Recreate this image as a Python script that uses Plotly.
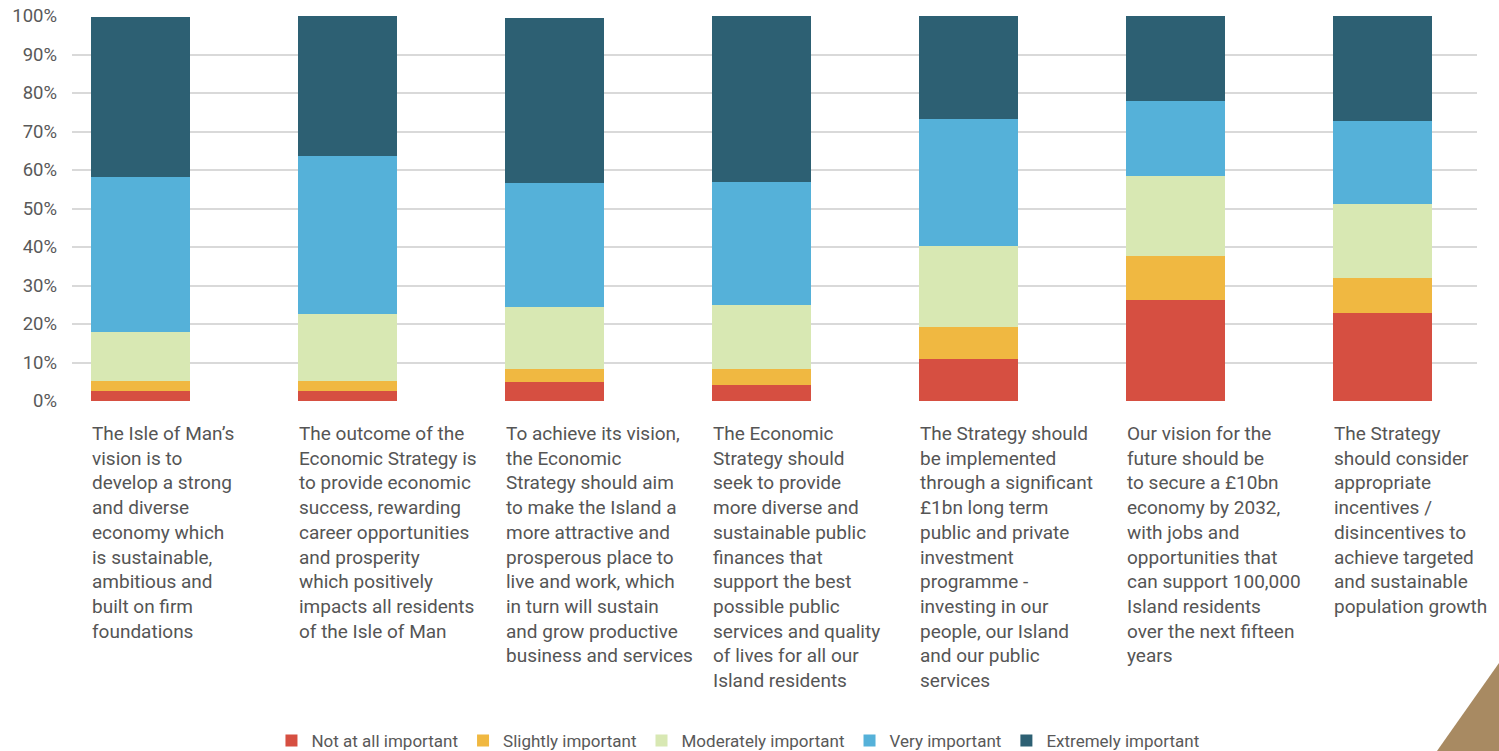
import plotly.graph_objects as go

categories = [
    "The Isle of Man’s<br>vision is to<br>develop a strong<br>and diverse<br>economy which<br>is sustainable,<br>ambitious and<br>built on firm<br>foundations",
    "The outcome of the<br>Economic Strategy is<br>to provide economic<br>success, rewarding<br>career opportunities<br>and prosperity<br>which positively<br>impacts all residents<br>of the Isle of Man",
    "To achieve its vision,<br>the Economic<br>Strategy should aim<br>to make the Island a<br>more attractive and<br>prosperous place to<br>live and work, which<br>in turn will sustain<br>and grow productive<br>business and services",
    "The Economic<br>Strategy should<br>seek to provide<br>more diverse and<br>sustainable public<br>finances that<br>support the best<br>possible public<br>services and quality<br>of lives for all our<br>Island residents",
    "The Strategy should<br>be implemented<br>through a significant<br>£1bn long term<br>public and private<br>investment<br>programme -<br>investing in our<br>people, our Island<br>and our public<br>services",
    "Our vision for the<br>future should be<br>to secure a £10bn<br>economy by 2032,<br>with jobs and<br>opportunities that<br>can support 100,000<br>Island residents<br>over the next fifteen<br>years",
    "The Strategy<br>should consider<br>appropriate<br>incentives /<br>disincentives to<br>achieve targeted<br>and sustainable<br>population growth",
]

series_names = ["Not at all important", "Slightly important", "Moderately important",
                "Very important", "Extremely important"]
not_at_all = [2.6, 2.6, 4.9, 4.2, 10.9, 26.2, 22.9]
slightly = [2.6, 2.6, 3.4, 4.1, 8.3, 11.5, 9.0]
moderately = [12.7, 17.4, 16.1, 16.6, 21.1, 20.7, 19.3]
very = [40.3, 41.0, 32.2, 32.0, 32.9, 19.6, 21.5]
extremely = [41.5, 36.4, 42.9, 43.1, 26.8, 22.0, 27.3]
colors = ["#D64F41", "#F0B841", "#D8E8B3", "#55B1D9", "#2D6073"]

ytick_vals = [0, 10, 20, 30, 40, 50, 60, 70, 80, 90, 100]
ytick_text = ["0%", "10%", "20%", "30%", "40%", "50%", "60%", "70%", "80%", "90%", "100%"]

BAR_W = 0.478
xs = list(range(len(categories)))

fig = go.Figure()
for name, vals, col in zip(series_names, [not_at_all, slightly, moderately, very, extremely], colors):
    fig.add_trace(go.Bar(x=xs, y=vals, name=name, marker=dict(color=col, line=dict(width=0)),
                         width=BAR_W))

for i, txt in enumerate(categories):
    fig.add_annotation(x=i - BAR_W / 2, y=-0.05, xref="x", yref="paper", text=txt,
                       showarrow=False, xanchor="left", yanchor="top", align="left",
                       xshift=-1,
                       font=dict(family="Roboto, Open Sans, sans-serif", size=19, color="#555555"))

# decorative corner triangle
fig.add_shape(type="path", xref="paper", yref="paper",
              path="M 0.9715 -0.909 L 1.0157 -0.6805 L 1.0157 -0.909 Z",
              fillcolor="#A88A62", line=dict(width=0), layer="above")

fig.update_layout(
    barmode="stack",
    width=1499, height=751,
    margin=dict(l=72, r=22, t=16, b=350, autoexpand=False),
    plot_bgcolor="white", paper_bgcolor="white",
    bargap=0,
    xaxis=dict(range=[-0.331, 6.457], showticklabels=False, showgrid=False, zeroline=False,
               fixedrange=True),
    yaxis=dict(range=[0, 100], tickvals=ytick_vals, ticktext=ytick_text, automargin=False,
               showgrid=True, gridcolor="#D9D9D9", gridwidth=1.5, zeroline=False,
               tickfont=dict(family="Roboto, Open Sans, sans-serif", size=18.5, color="#595959"),
               ticklabelstandoff=14),
    legend=dict(orientation="h", x=0.474, xanchor="center", y=-0.883, yanchor="middle",
                font=dict(family="Roboto, sans-serif", size=17, color="#595959"),
                traceorder="normal", itemwidth=30),
    showlegend=True,
)

fig.write_html("out.html", config={"displayModeBar": False},
               post_script="document.body.style.margin='0';document.body.style.overflow='hidden';")
